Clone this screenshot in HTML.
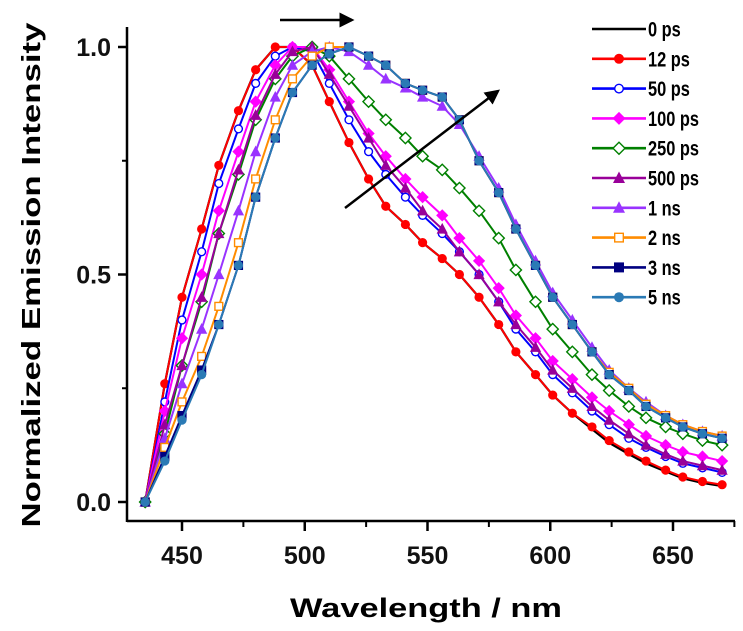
<!DOCTYPE html>
<html><head><meta charset="utf-8"><style>
html,body{margin:0;padding:0;background:#fff;}
svg{display:block;font-family:"Liberation Sans",Arial,sans-serif;}
</style></head><body>
<svg id="chart" width="743" height="631" viewBox="0 0 743 631" xmlns="http://www.w3.org/2000/svg">
<defs><marker id="ah" markerWidth="6" markerHeight="6" refX="5" refY="3" orient="auto"><path d="M0,0 L6,3 L0,6 Z" fill="#000"/></marker></defs>
<g id="axes"></g>
<g id="series"></g>
<g id="legend"></g>
<text x="0" y="0" transform="translate(40,275) rotate(-90)" text-anchor="middle" font-weight="bold" font-size="26" textLength="505" lengthAdjust="spacingAndGlyphs">Normalized Emission Intensity</text>
<text x="426" y="617" text-anchor="middle" font-weight="bold" font-size="27" textLength="272" lengthAdjust="spacingAndGlyphs">Wavelength / nm</text>
<line x1="280" y1="20" x2="352" y2="20" stroke="#000" stroke-width="2.5" marker-end="url(#ah)"/>
<line x1="345" y1="208" x2="498" y2="91" stroke="#000" stroke-width="2.5" marker-end="url(#ah)"/>
</svg>
<script>
const wavelengths=[435,443,450,458,465,473,480,488,495,503,510,518,526,533,541,548,556,563,571,579,586,594,601,609,617,624,632,639,647,654,662,670];
const s0ps=[0,.26,.45,.60,.74,.86,.95,1.0,1.0,.96,.88,.79,.71,.65,.61,.57,.535,.50,.45,.39,.33,.28,.235,.195,.16,.13,.105,.085,.067,.052,.042,.035];
const s12ps=[0,.26,.45,.60,.74,.86,.95,1.0,1.0,.96,.88,.79,.71,.65,.61,.57,.535,.50,.45,.39,.33,.28,.235,.195,.165,.135,.11,.09,.07,.055,.045,.038];
const s50ps=[0,.22,.40,.55,.70,.82,.92,.98,1.0,.99,.92,.84,.77,.72,.67,.63,.59,.55,.50,.44,.38,.33,.28,.24,.20,.17,.14,.12,.10,.085,.075,.065];
const s100ps=[0,.20,.36,.50,.64,.77,.88,.96,1.0,1.0,.95,.88,.81,.76,.71,.67,.63,.58,.53,.47,.41,.36,.31,.27,.23,.20,.17,.145,.125,.11,.10,.09];
const s250ps=[0,.15,.30,.44,.59,.72,.84,.93,.98,1.0,.98,.93,.88,.84,.80,.76,.73,.69,.64,.58,.51,.44,.38,.33,.28,.245,.21,.185,.165,.15,.135,.125];
const s500ps=[0,.17,.30,.45,.59,.73,.85,.94,.99,1.0,.94,.87,.80,.74,.69,.64,.60,.55,.50,.44,.39,.34,.29,.25,.21,.18,.15,.125,.105,.09,.08,.07];
const s1ns=[0,.14,.26,.38,.50,.64,.77,.89,.96,.99,1.0,.99,.96,.93,.91,.89,.87,.83,.76,.69,.61,.53,.46,.40,.34,.29,.25,.22,.19,.17,.155,.145];
const s2ns=[0,.12,.22,.32,.43,.57,.71,.84,.93,.98,1.0,1.0,.98,.96,.92,.905,.89,.84,.75,.68,.60,.52,.45,.39,.33,.285,.25,.215,.19,.17,.155,.145];
const s3ns=[0,.10,.19,.29,.39,.52,.67,.80,.90,.96,.985,1.0,.98,.96,.92,.905,.89,.84,.75,.68,.60,.52,.45,.39,.33,.28,.245,.21,.185,.165,.15,.14];
const s5ns=[0,.09,.18,.28,.39,.52,.67,.80,.90,.96,.985,1.0,.98,.96,.92,.905,.89,.84,.75,.68,.60,.52,.45,.39,.33,.28,.245,.21,.185,.165,.15,.14];
const seriesLabels=["0 ps","12 ps","50 ps","100 ps","250 ps","500 ps","1 ns","2 ns","3 ns","5 ns"];
const xTicks=[450,500,550,600,650];
const xMinor=[475,525,575,625,675];
const yTicks=[0,0.5,1.0];
const yTickLabels=["0.0","0.5","1.0"];
const yMinor=[0.25,0.75];

const NS="http://www.w3.org/2000/svg";
function X(w){return 182+(w-450)*2.455;}
function Y(v){return 502-v*455;}
function mk(tag,attrs,parent){const e=document.createElementNS(NS,tag);for(const k in attrs)e.setAttribute(k,attrs[k]);parent.appendChild(e);return e;}

const axes=document.getElementById('axes');
let l=mk('line',{x1:127,y1:521,x2:735,y2:521,stroke:'#000','stroke-width':2.5},axes);


l=mk('line',{x1:127,y1:27,x2:127,y2:522,stroke:'#000','stroke-width':2.5},axes);


xTicks.forEach(t=>{
  const tk=mk('line',{x1:X(t),y1:521,x2:X(t),y2:531,stroke:'#000','stroke-width':2.5},axes);
  
  
  const tx=mk('text',{x:X(t),y:564,'text-anchor':'middle','font-size':25,'font-weight':'bold',fill:'#111'},axes);
  tx.textContent=t;
  
  
});
xMinor.forEach(t=>{
  const tk=mk('line',{x1:X(t),y1:521,x2:X(t),y2:527,stroke:'#000','stroke-width':2},axes);
  
  
});
yTicks.forEach((t,i)=>{
  const tk=mk('line',{x1:118,y1:Y(t),x2:127,y2:Y(t),stroke:'#000','stroke-width':2.5},axes);
  
  
  const tx=mk('text',{x:111,y:Y(t)+9,'text-anchor':'end','font-size':25,'font-weight':'bold',fill:'#111'},axes);
  tx.textContent=yTickLabels[i];
  
  
});
yMinor.forEach(t=>{
  const tk=mk('line',{x1:122,y1:Y(t),x2:127,y2:Y(t),stroke:'#000','stroke-width':2},axes);
  
  
});

const allSeries=[s0ps,s12ps,s50ps,s100ps,s250ps,s500ps,s1ns,s2ns,s3ns,s5ns];
const colors=['#000','#ff0000','#0000ff','#ff00ff','#008000','#990099','#9933ff','#ff8c00','#000080','#2a7ab5'];
const markers=['none','circle','ocircle','diamond','odiamond','triangle','triangle','osquare','square','circle'];
function drawMarker(g,type,x,y,c,s){
  let e=null;
  if(type==='none')return null;
  if(type==='circle')e=mk('circle',{cx:x,cy:y,r:s,fill:c},g);
  if(type==='ocircle')e=mk('circle',{cx:x,cy:y,r:s-0.7,fill:'#fff',stroke:c,'stroke-width':1.4},g);
  if(type==='diamond')e=mk('polygon',{points:`${x},${y-s-1.5} ${x+s+1.5},${y} ${x},${y+s+1.5} ${x-s-1.5},${y}`,fill:c},g);
  if(type==='odiamond')e=mk('polygon',{points:`${x},${y-s-1} ${x+s+1},${y} ${x},${y+s+1} ${x-s-1},${y}`,fill:'#fff',stroke:c,'stroke-width':1.4},g);
  if(type==='triangle')e=mk('polygon',{points:`${x},${y-s-1.5} ${x+s+1},${y+s} ${x-s-1},${y+s}`,fill:c},g);
  if(type==='osquare')e=mk('rect',{x:x-s+0.7,y:y-s+0.7,width:2*s-1.4,height:2*s-1.4,fill:'#fff',stroke:c,'stroke-width':1.4},g);
  if(type==='square')e=mk('rect',{x:x-s,y:y-s,width:2*s,height:2*s,fill:c},g);
  return e;
}
const sg=document.getElementById('series');
allSeries.forEach((data,si)=>{
  const g=mk('g',{},sg);
  
  
  const pts=data.map((v,i)=>X(wavelengths[i])+','+Y(v)).join(' ');
  const pl=mk('polyline',{points:pts,fill:'none',stroke:colors[si],'stroke-width':si===0?2.2:2},g);
  
  
  data.forEach((v,i)=>{
    const m=drawMarker(g,markers[si],X(wavelengths[i]),Y(v),colors[si],4.6);
    if(m){
      
      
    }
  });
});

const lg=document.getElementById('legend');
seriesLabels.forEach((lab,i)=>{
  const y=29+i*29.8;
  const g=mk('g',{},lg);
  
  
  mk('line',{x1:592,y1:y,x2:646,y2:y,stroke:colors[i],'stroke-width':2.6},g);
  drawMarker(g,markers[i],619,y,colors[i],5);
  const t=mk('text',{x:0,y:0,'font-size':21,'font-weight':'bold',transform:`translate(648,${y+7.5}) scale(0.78,1)`},g);
  t.textContent=lab;
  
  
});
</script>
</body></html>
